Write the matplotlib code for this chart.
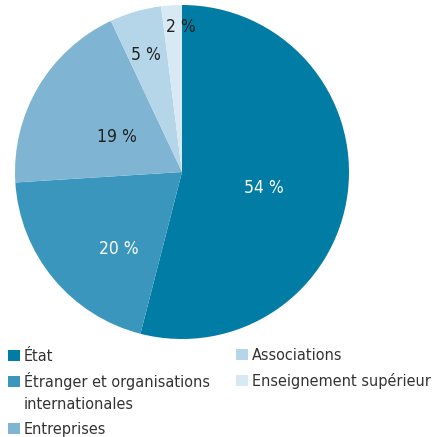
import numpy as np
import matplotlib
matplotlib.use("Agg")
import matplotlib.pyplot as plt
from matplotlib.patches import Rectangle

plt.rcParams['font.family'] = ['DejaVu Sans']
plt.rcParams['font.stretch'] = 'condensed'

labels = ["État", "Étranger et organisations\ninternationales", "Entreprises",
          "Associations", "Enseignement supérieur"]
values = [54, 20, 19, 5, 2]
colors = ["#007ca5", "#3a96bd", "#7fb5d2", "#b5d5e8", "#d7e9f3"]
text_colors = ["white", "white", "#222222", "#222222", "#222222"]
# radial distance and angular nudge (degrees) for each percentage label
label_dist = [0.50, 0.59, 0.45, 0.74, 0.88]
label_turn = [-2.5, 10.5, 1.3, 0.8, -3.2]

fig = plt.figure(figsize=(4.41, 4.37), dpi=100)
ax = fig.add_axes([15 / 441, (437 - 339) / 437, 334 / 441, 334 / 437])
wedges, _ = ax.pie(values, colors=colors, startangle=90, counterclock=False,
                   radius=1, wedgeprops=dict(linewidth=0))
ax.set_xlim(-1, 1)
ax.set_ylim(-1, 1)
ax.set_aspect("equal")
ax.axis("off")

for w, v, c, d, t in zip(wedges, values, text_colors, label_dist, label_turn):
    ang = np.deg2rad((w.theta1 + w.theta2) / 2 + t)
    ax.text(d * np.cos(ang), d * np.sin(ang) - 0.01, f"{v} %", color=c,
            fontsize=12.5, ha="center", va="center")

# legend laid out in figure pixels (x, baseline y)
def px(x, y):
    return x / 441, 1 - y / 437

legend_pos = [(8, 361), (8, 387), (8, 434), (236, 360), (236, 386)]
for (x, y), lab, col in zip(legend_pos, labels, colors):
    fx, fy = px(x, y)
    fig.add_artist(Rectangle((fx, fy), 12 / 441, 11 / 437, color=col,
                             lw=0, transform=fig.transFigure))
    for i, line in enumerate(lab.split("\n")):
        tx, ty = px(x + 16, y + 22 * i)
        fig.text(tx, ty, line, fontsize=11.6, color="#333333", ha="left",
                 va="baseline")

fig.savefig("out.png", dpi=100)
